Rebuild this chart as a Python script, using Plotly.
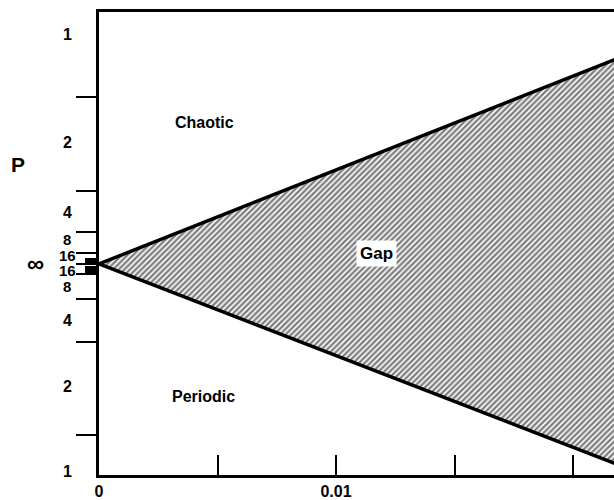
import plotly.graph_objects as go

# --- data ---
gap_eps = [0.0, 0.022]          # control parameter
gap_upper = [0.0, 207.5]        # upper boundary of the gap (chaotic side)
gap_lower = [0.0, -202.5]       # lower boundary of the gap (periodic side)

x_tick_vals = [0.0, 0.005, 0.01, 0.015, 0.02]
x_tick_text = ["0", "", "0.01", "", ""]

# y: arbitrary period-doubling scale, 0 = accumulation point (P = infinity)
y_major_ticks = [168, 73, 32, 11, 0, -10, -35, -78, -172]
y_minor_ticks = [5, 3, 1, -3, -5, -7, -8]
y_label_pos = [230, 122, 52, 25, 8, 0, -7, -23, -57, -123, -208]
y_label_text = ["1", "2", "4", "8", "16", "∞", "16", "8", "4", "2", "1"]

region_labels = ["Chaotic", "Gap", "Periodic"]
region_x = [0.00447, 0.01169, 0.00443]
region_y = [142, 10, -133]

FONT = "Liberation Sans, Arial, Helvetica, sans-serif"

fig = go.Figure()
fig.add_trace(go.Scatter(
    x=gap_eps + gap_eps[::-1], y=gap_upper + gap_lower[::-1],
    mode="lines", fill="toself",
    line=dict(color="black", width=3.5),
    fillcolor="white",
    fillpattern=dict(shape="/", fgcolor="black", bgcolor="white", size=4, solidity=0.6),
    hoverinfo="skip", showlegend=False,
))

W, H = 614, 500
ml, mr, mt, mb = 99, 0, 12, 23
pw = W - ml - mr

fig.update_layout(
    width=W, height=H,
    margin=dict(l=ml, r=mr, t=mt, b=mb, pad=0),
    paper_bgcolor="white", plot_bgcolor="white",
    showlegend=False,
    font=dict(family=FONT, size=16, color="black", weight="bold"),
    xaxis=dict(
        range=[0, (W - ml) / 237 * 0.01], showgrid=False, zeroline=False,
        showline=True, linecolor="black", linewidth=2.5, mirror=True,
        tickmode="array", tickvals=x_tick_vals, ticktext=x_tick_text,
        ticks="inside", ticklen=20, tickwidth=2, tickcolor="black",
        tickfont=dict(family=FONT, size=16, color="black", weight="bold"),
    ),
    yaxis=dict(
        range=[-212, 253], showgrid=False, zeroline=False,
        showline=True, linecolor="black", linewidth=2.5, mirror=False,
        tickmode="array", tickvals=y_major_ticks, showticklabels=False,
        ticks="outside", ticklen=20, tickwidth=2, tickcolor="black",
        minor=dict(tickmode="array", tickvals=y_minor_ticks, ticks="outside",
                   ticklen=11, tickwidth=1.5, tickcolor="black", showgrid=False),
    ),
)

for txt, yv in zip(y_label_text, y_label_pos):
    is_inf = txt == "∞"
    small = txt in ("8", "16") and abs(yv) < 30
    px = 35 if is_inf else 67
    fig.add_annotation(
        xref="paper", yref="y", x=(px - ml) / pw, y=yv, text=txt, showarrow=False,
        xanchor="center", yanchor="middle",
        font=dict(family=FONT, size=24 if is_inf else (15 if small else 16),
                  color="black", weight="bold"),
    )

for txt, xv, yv in zip(region_labels, region_x, region_y):
    fig.add_annotation(
        x=xv, y=yv, text=txt, showarrow=False, xanchor="center", yanchor="middle",
        bgcolor="white" if txt == "Gap" else None, borderpad=3,
        font=dict(family=FONT, size=17 if txt == "Gap" else 16, color="black", weight="bold"),
    )

fig.add_annotation(
    xref="paper", yref="y", x=(18 - ml) / pw, y=100, text="P", showarrow=False,
    xanchor="center", yanchor="middle",
    font=dict(family=FONT, size=21, color="black", weight="bold"),
)

fig.write_html("out.html")
